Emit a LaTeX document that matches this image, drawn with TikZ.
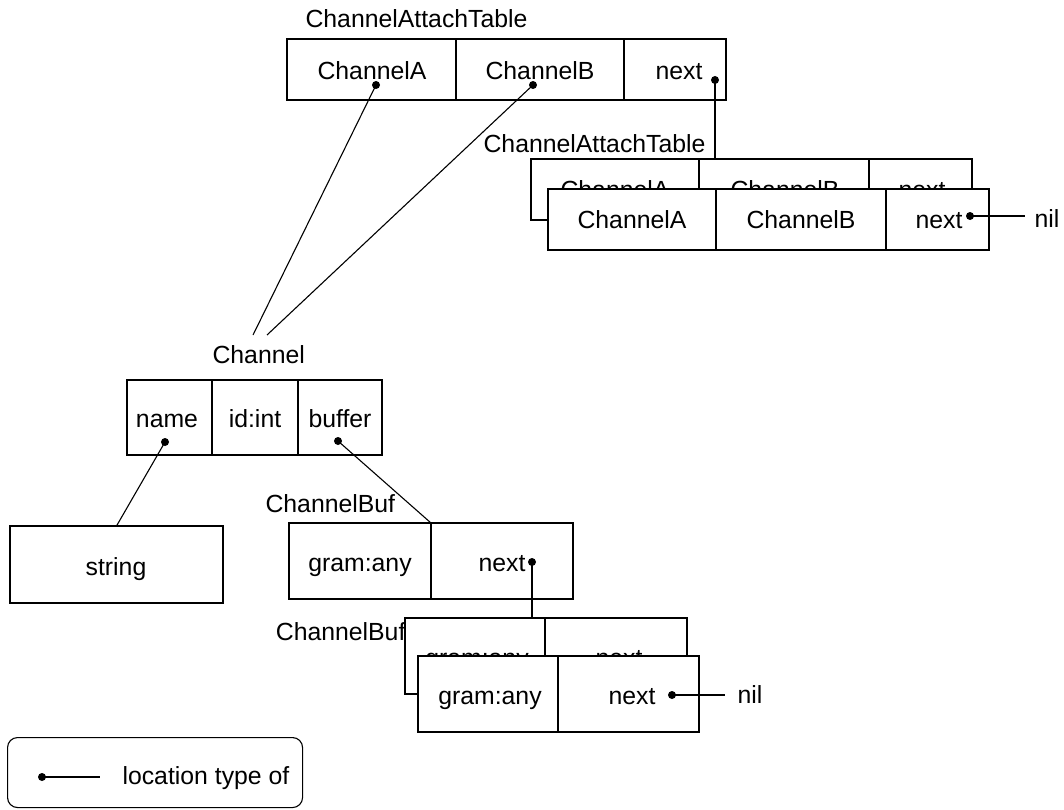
\documentclass[tikz,border=0pt]{standalone}
\usepackage{fontspec}
\setmainfont{Liberation Sans}
\begin{document}
\begin{tikzpicture}[x=1bp,y=-1bp, line width=1.1bp,
  font=\fontsize{24.8bp}{29bp}\selectfont,
  cell/.style 2 args={draw, fill=white, rectangle, anchor=north west,
    minimum width=#1bp, minimum height=#2bp, inner sep=0, outer sep=0},
  txt/.style={anchor=base, inner sep=0},
  lbl/.style={anchor=base west, inner sep=0},
  dot/.style={circle, fill=black, draw=none, inner sep=0, minimum size=8bp},
]
\useasboundingbox (0,0) rectangle (1064,810);

% ---- first ChannelAttachTable ----
\node[lbl] (tLbl) at (305,28) {ChannelAttachTable};
\node[cell={169}{61}] (tA) at (287,39) {};
\node[cell={168}{61}] (tB) at (456,39) {};
\node[cell={102}{61}] (tN) at (624,39) {};
\node[txt] (tAt) at (372,80) {ChannelA};
\node[txt] (tBt) at (540,80) {ChannelB};
\node[txt] (tNt) at (679,80) {next};
\node[dot] (dA) at (376,85) {};
\node[dot] (dB) at (533,85) {};
\node[dot] (dN) at (715,80) {};

% ---- second ChannelAttachTable (stacked pair) ----
\node[lbl] (sLbl) at (483,152) {ChannelAttachTable};
\node[cell={168}{61}] (bA) at (531,159) {};
\node[cell={170}{61}] (bB) at (699,159) {};
\node[cell={103}{61}] (bN) at (869,159) {};
\node[txt] (bAt) at (615,198) {ChannelA};
\node[txt] (bBt) at (785,198) {ChannelB};
\node[txt] (bNt) at (922,198) {next};
\node[cell={168}{61}] (fA) at (548,189) {};
\node[cell={170}{61}] (fB) at (716,189) {};
\node[cell={103}{61}] (fN) at (886,189) {};
\node[txt] (fAt) at (632,228) {ChannelA};
\node[txt] (fBt) at (801,228) {ChannelB};
\node[txt] (fNt) at (939,228) {next};
\node[dot] (fDot) at (970,216) {};
\coordinate (nilEndA) at (1025,216);
\node[lbl] (nilA) at (1034,227) {nil};

% ---- Channel ----
\node[lbl] (cLbl) at (212,363) {Channel};
\node[cell={85}{75}] (cN) at (127,380) {};
\node[cell={86}{75}] (cI) at (212,380) {};
\node[cell={84}{75}] (cB) at (298,380) {};
\node[txt] (cNt) at (167,427) {name};
\node[txt] (cIt) at (255,427) {id:int};
\node[txt] (cBt) at (340,427) {buffer};
\node[dot] (dName) at (165,442) {};
\node[dot] (dBuf) at (338,441) {};
\coordinate (chA) at (253,335);
\coordinate (chB) at (267,335);

% ---- string ----
\node[cell={213}{77}] (str) at (10,526) {};
\node[txt] (strt) at (116,575) {string};

% ---- first ChannelBuf ----
\node[lbl] (gLbl) at (265,512) {ChannelBuf};
\node[cell={142}{76}] (g1) at (289,523) {};
\node[cell={142}{76}] (n1) at (431,523) {};
\node[txt] (g1t) at (360,571) {gram:any};
\node[txt] (n1t) at (502,571) {next};
\node[dot] (d1) at (532,562) {};

% ---- second ChannelBuf (stacked pair) ----
\node[anchor=base east, inner sep=0] (hLbl) at (406,640) {ChannelBuf};
\node[cell={140}{76}] (g2b) at (405,618) {};
\node[cell={142}{76}] (n2b) at (545,618) {};
\node[txt] (g2bt) at (477,666) {gram:any};
\node[txt] (n2bt) at (619,666) {next};
\node[cell={140}{76}] (g2) at (418,656) {};
\node[cell={141}{76}] (n2) at (558,656) {};
\node[txt] (g2t) at (490,704) {gram:any};
\node[txt] (n2t) at (632,704) {next};
\node[dot] (d2) at (672,695) {};
\coordinate (nilEndB) at (725,695);
\node[lbl] (nilB) at (737,703) {nil};

% ---- legend ----
\node[draw, rounded corners=10bp, anchor=north west, minimum width=295bp,
  minimum height=70bp, inner sep=0] (leg) at (7,737) {};
\node[dot] (dLeg) at (42,777) {};
\coordinate (legEnd) at (100,777);
\node[lbl] (legT) at (122,784) {location type of};

% ---- connectors ----
\draw (dA.center) -- (chA);
\draw (dB.center) -- (chB);
\draw (dN.center) -- (dN |- bB.north);
\draw (fDot.center) -- (nilEndA);
\draw (dName.center) -- (str.north);
\draw (dBuf.center) -- (n1.north west);
\draw (d1.center) -- (d1 |- n2b.north);
\draw (d2.center) -- (nilEndB);
\draw (dLeg.center) -- (legEnd);
\end{tikzpicture}
\end{document}
